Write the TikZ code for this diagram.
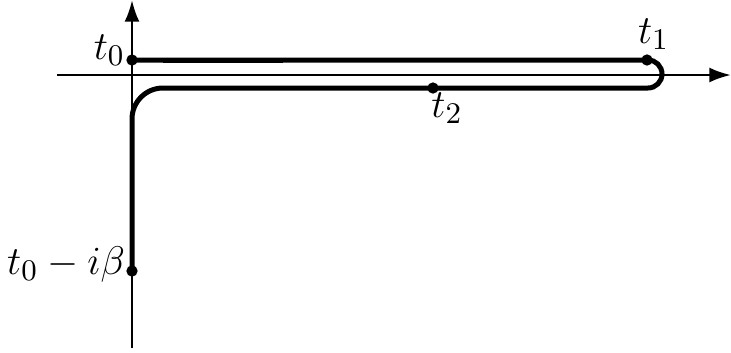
\documentclass[tikz,border=0pt]{standalone}
\usepackage{tikz}
\usetikzlibrary{arrows.meta, positioning}

\begin{document}
\begin{tikzpicture}[x=0.3pt, y=0.3pt,
    axis/.style={line width=0.8pt, -{Latex[length=6.5pt, width=4.5pt]}},
    contour/.style={line width=1.5pt},
    dot/.style={circle, fill, inner sep=0pt, minimum size=3.4pt},
    lbl/.style={font=\fontsize{12.5}{15}\selectfont, inner sep=1pt}]
    \useasboundingbox (0,0) rectangle (731,352);
    % axes
    \coordinate (xl) at (57,277);
    \coordinate (xr) at (731,277);
    \coordinate (yb) at (132,4);
    \coordinate (yt) at (132,352);
    \draw[axis] (xl) -- (xr);
    \draw[axis] (yb) -- (yt);
    % points on the contour
    \node[dot] (A) at (132,292) {};
    \node[dot] (B) at (647,292) {};
    \node[dot] (C) at (433,264) {};
    \node[dot] (D) at (132,81) {};
    \node[lbl] (la) [left=-1pt of A, yshift=3pt] {$t_0$};
    \node[lbl] (lb) [above=0pt of B, xshift=2pt] {$t_1$};
    \node[lbl] (lc) [below right=-1pt and -3pt of C] {$t_2$};
    \node[lbl] (ld) [left=-1pt of D, yshift=2pt] {$t_0-i\beta$};
    % contour
    \draw[contour] (A.center) -- (648,292) arc[start angle=90, end angle=-90, radius=14]
        -- (163,264) arc[start angle=90, end angle=180, radius=31] -- (D.center);
    \draw[contour] (163,291.3) -- (283,291.3);
\end{tikzpicture}
\end{document}
